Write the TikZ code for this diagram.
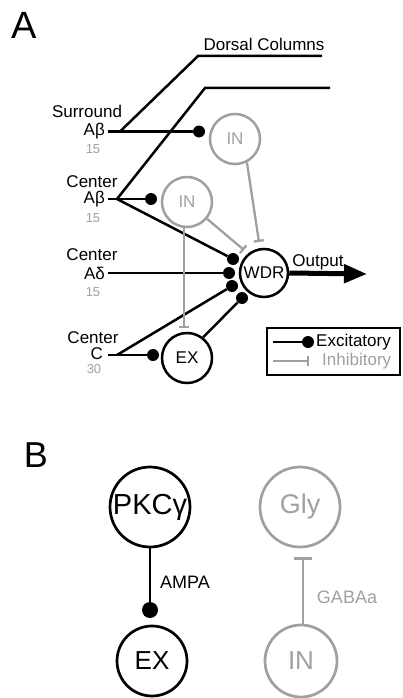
\documentclass[tikz,border=0pt]{standalone}
\usepackage{fontspec}
\setmainfont{Liberation Sans}
\usetikzlibrary{arrows.meta}
\definecolor{inh}{RGB}{160,160,160}
\tikzset{
  lbl/.style={font=\fontsize{17}{20}\selectfont, inner sep=0pt},
  num/.style={font=\fontsize{13}{15}\selectfont, text=inh, inner sep=0pt},
  exline/.style={line width=2.5pt, black},
  inline/.style={line width=2.3pt, inh, -{Bar[width=10pt,line width=2.3pt]}},
  dot/.style={circle, fill=black, minimum size=12pt, inner sep=0pt},
  cellA/.style={circle, draw, line width=2.5pt, minimum size=50pt, inner sep=0pt, font=\fontsize{17}{20}\selectfont},
  cellAg/.style={cellA, draw=inh, text=inh},
  cellB/.style={circle, draw, line width=2.7pt, inner sep=0pt},
}
\begin{document}
\begin{tikzpicture}[x=1pt, y=-1pt]
\useasboundingbox (0,0) rectangle (402,698);

% ---------------- Panel A ----------------
\node[font=\fontsize{38}{40}\selectfont, inner sep=0pt] (labA) at (24,25) {A};
\node[lbl] (dorsal) at (264,44) {Dorsal Columns};

% input labels
\node[lbl] (sAbT) at (87,111) {Surround};
\node[lbl, anchor=east] (sAbL) at (105,131) {Aβ};
\node[num] (sAbN) at (93,149) {15};
\node[lbl] (cAbT) at (92,182) {Center};
\node[lbl, anchor=east] (cAbL) at (105,199) {Aβ};
\node[num] (cAbN) at (93,218) {15};
\node[lbl] (cAdT) at (92,255) {Center};
\node[lbl, anchor=east] (cAdL) at (105,273) {Aδ};
\node[num] (cAdN) at (93,292) {15};
\node[lbl] (cCT) at (93,338) {Center};
\node[lbl, anchor=east] (cCL) at (103,354) {C};
\node[num] (cCN) at (94,369) {30};

% cells
\node[cellAg] (INt) at (235,139) {IN};
\node[cellAg] (INm) at (187,202) {IN};
\node[cellA, minimum size=48pt] (WDR) at (264,273) {WDR};
\node[cellA] (EX) at (187,358) {EX};

% synaptic dots
\node[dot] (dS) at (199,131.5) {};
\node[dot] (dAb) at (151,199) {};
\node[dot] (dC) at (153,355) {};
\node[dot] (w1) at (233,259) {};
\node[dot] (w2) at (229,273) {};
\node[dot] (w3) at (232,286) {};
\node[dot] (w4) at (242,298) {};

% fibre points
\coordinate (sAb0) at (108,131.5);
\coordinate (sAbj) at (120,131.5);
\coordinate (cAb0) at (108,199);
\coordinate (cAbj) at (117,199);
\coordinate (cAd0) at (108,273);
\coordinate (cC0) at (108,355);
\coordinate (cCj) at (117,355);
\coordinate (dc1a) at (198,56);
\coordinate (dc1b) at (322,56);
\coordinate (dc2a) at (205,88);
\coordinate (dc2b) at (330,88);

% dorsal column branches
\draw[exline] (sAbj) -- (dc1a) -- (dc1b);
\draw[exline] (cAbj) -- (dc2a) -- (dc2b);

% excitatory fibres
\draw[exline] (sAb0) -- (dS);
\draw[exline] (cAb0) -- (cAbj) -- (dAb);
\draw[exline] (cAbj) -- (w1);
\draw[exline] (cAd0) -- (w2);
\draw[exline] (cC0) -- (cCj) -- (dC);
\draw[exline] (cCj) -- (w3);
\draw[exline] (EX.52) -- (w4);

% inhibitory projections
\coordinate (bEX) at (184,328);
\coordinate (bW1) at (244,250);
\coordinate (bW2) at (259,242);
\draw[inline] (INm.south -| bEX) -- (bEX);
\draw[inline] (INm) -- (bW1);
\draw[inline] (INt.-63) -- (bW2);

% output
\coordinate (outTip) at (367,274);
\draw[line width=5pt, -{Triangle[length=23pt,width=18pt]}] (WDR.east) -- (outTip);
\node[lbl] (outL) at (318,262) {Output};

% legend
\draw[line width=2.8pt] (267,328) rectangle (400,375);
\coordinate (lgE0) at (273,342);
\node[dot] (lgEd) at (308,342) {};
\draw[exline] (lgE0) -- (lgEd);
\node[lbl, anchor=west] (lgEt) at (316,342) {Excitatory};
\coordinate (lgI0) at (273,361);
\coordinate (lgI1) at (309,361);
\draw[inline] (lgI0) -- (lgI1);
\node[lbl, anchor=west, text=inh] (lgIt) at (322,361) {Inhibitory};

% ---------------- Panel B ----------------
\node[font=\fontsize{36}{38}\selectfont, inner sep=0pt] (labB) at (36,455) {B};
\node[cellB, minimum size=80pt, font=\fontsize{29}{32}\selectfont] (PKC) at (150,507) {PKCγ};
\node[cellB, minimum size=80pt, draw=inh, text=inh, font=\fontsize{27}{30}\selectfont] (Gly) at (300,507) {Gly};
\node[cellB, minimum size=70pt, font=\fontsize{26}{30}\selectfont] (EXb) at (152,661) {EX};
\node[cellB, minimum size=72pt, draw=inh, text=inh, font=\fontsize{26}{30}\selectfont] (INb) at (301,661) {IN};

\node[dot, minimum size=16pt] (dB) at (150,610) {};
\draw[line width=2.5pt] (PKC.south) -- (dB);
\node[font=\fontsize{18}{20}\selectfont, inner sep=0pt] (ampa) at (185,582) {AMPA};

\coordinate (bGly) at (303,557);
\draw[line width=2.5pt, inh, -{Bar[width=18pt,line width=2.5pt]}] (INb.north -| bGly) -- (bGly);
\node[font=\fontsize{18}{20}\selectfont, inner sep=0pt, text=inh] (gaba) at (347,597) {GABAa};
\end{tikzpicture}
\end{document}
